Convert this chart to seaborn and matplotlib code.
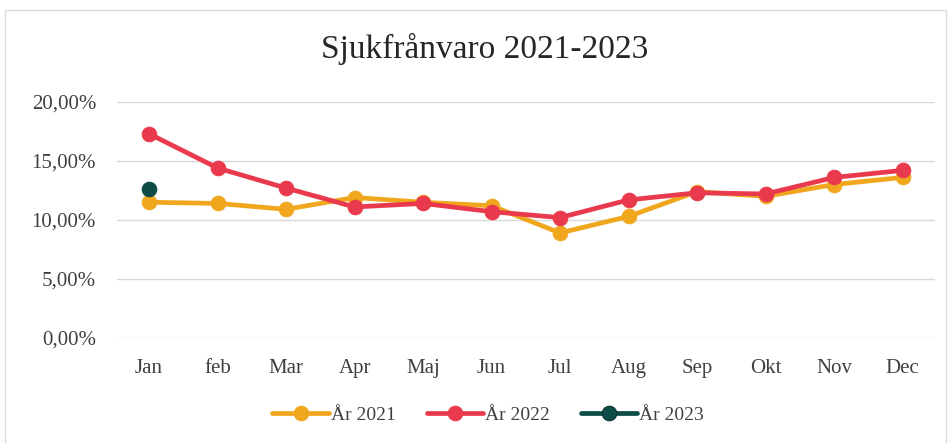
import seaborn as sns
import matplotlib.pyplot as plt
import matplotlib.patches as mpatches
from matplotlib.ticker import FuncFormatter
import pandas as pd

months = ['Jan', 'feb', 'Mar', 'Apr', 'Maj', 'Jun', 'Jul', 'Aug', 'Sep', 'Okt', 'Nov', 'Dec']
ar_2021 = [11.5, 11.4, 10.9, 11.9, 11.5, 11.2, 8.9, 10.3, 12.4, 12.0, 13.0, 13.6]
ar_2022 = [17.3, 14.4, 12.7, 11.1, 11.4, 10.7, 10.2, 11.7, 12.3, 12.2, 13.6, 14.2]
ar_2023 = [12.6]

series = {'År 2021': ar_2021, 'År 2022': ar_2022, 'År 2023': ar_2023}
colors = {'År 2021': '#F0A71E', 'År 2022': '#E83A4C', 'År 2023': '#0E4C47'}

rows = []
for name, vals in series.items():
    for m, v in zip(months, vals):
        rows.append({'Månad': m, 'pos': months.index(m), 'Andel': v, 'Serie': name})
df = pd.DataFrame(rows)

sns.set_style('white')
plt.rcParams['font.family'] = ['Liberation Serif', 'DejaVu Serif']

fig = plt.figure(figsize=(9.5, 4.43), dpi=100)
ax = fig.add_axes([0.123, 0.237, 0.861, 0.533])

sns.lineplot(data=df, x='pos', y='Andel', hue='Serie', palette=colors, marker='o',
             markersize=10.5, linewidth=3.4, sort=False, ax=ax)

# darker rim on the 2023 point
for line in ax.lines:
    if line.get_label() == 'År 2023':
        line.set_markeredgecolor('#082E2B')
    else:
        line.set_markeredgecolor(line.get_color())

ax.set_xlim(-0.47, 11.47)
ax.set_ylim(0, 20)
ax.set_yticks([0, 5, 10, 15, 20])
ax.yaxis.set_major_formatter(FuncFormatter(lambda v, p: f'{v:.2f}'.replace('.', ',') + '%'))
ax.set_xticks(range(len(months)))
ax.set_xticklabels(months)
ax.grid(axis='y', color='#d9d9d9', linewidth=1)
ax.set_axisbelow(True)
for s in ax.spines.values():
    s.set_visible(False)
ax.tick_params(axis='y', labelsize=15, length=0, pad=15, labelcolor='#404040')
ax.tick_params(axis='x', labelsize=15, length=0, pad=15, labelcolor='#404040')
ax.set_xlabel('')
ax.set_ylabel('')

fig.text(0.51, 0.89, 'Sjukfrånvaro 2021-2023', ha='center', va='center', fontsize=24, color='#262626')

handles, labels = ax.get_legend_handles_labels()
ax.legend(handles, labels, loc='center', bbox_to_anchor=(0.454, -0.325), ncol=3, frameon=False,
          fontsize=14, handlelength=2.9, handletextpad=0.1, columnspacing=1.6, labelcolor='#404040')

fig.patches.append(mpatches.Rectangle((0.005, -0.05), 0.991, 1.027, transform=fig.transFigure,
                                      fill=False, edgecolor='#d9d9d9', linewidth=1))

fig.savefig('out.png', dpi=100)
